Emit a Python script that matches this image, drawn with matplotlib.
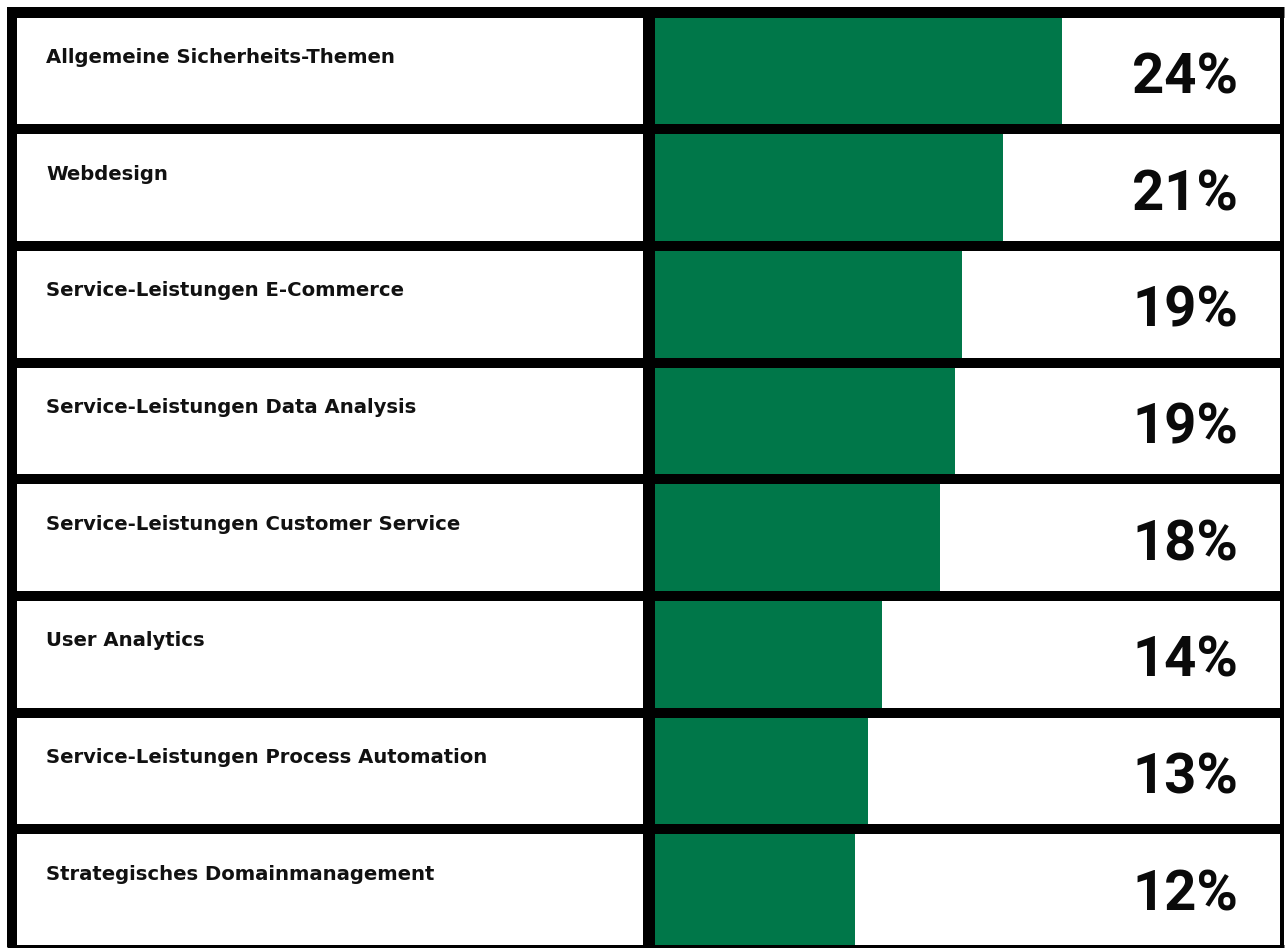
import matplotlib
matplotlib.use("Agg")
import matplotlib.pyplot as plt
from matplotlib.transforms import blended_transform_factory

categories = [
    "Allgemeine Sicherheits-Themen",
    "Webdesign",
    "Service-Leistungen E-Commerce",
    "Service-Leistungen Data Analysis",
    "Service-Leistungen Customer Service",
    "User Analytics",
    "Service-Leistungen Process Automation",
    "Strategisches Domainmanagement",
]
bar_values = [24.3, 20.8, 18.4, 18.0, 17.1, 13.7, 12.9, 12.1]
pct_labels = ["24%", "21%", "19%", "19%", "18%", "14%", "13%", "12%"]

W, H = 1287, 948
DPI = 100
GREEN = "#007749"
PX_PER_UNIT = 17.0
X0 = 649.0          # pixel x of bar origin (column divider)
ROW_TOP = 12.5      # pixel y of top border centre
ROW_H = 116.7       # pixel height of one row
n = len(categories)

fig = plt.figure(figsize=(W / DPI, H / DPI), dpi=DPI)
ax = fig.add_axes([0, 0, 1, 1])
ax.set_xlim(-X0 / PX_PER_UNIT, (W - X0) / PX_PER_UNIT)
ax.set_ylim(n - 0.5 + (H - ROW_TOP - n * ROW_H) / ROW_H, -0.5 - ROW_TOP / ROW_H)
ax.axis("off")

def px(v):
    return v * 72.0 / DPI

ys = list(range(n))
ax.barh(ys, bar_values, height=1.0, left=0, color=GREEN, zorder=1)

line_kw = dict(color="black", zorder=3, solid_capstyle="butt")
xl, xr = 7 / W, 1284 / W
# top border
ax.axhline(-0.5, xmin=xl, xmax=xr, lw=px(11), **line_kw)
# row separators
for i in range(n - 1):
    ax.axhline(i + 0.5, xmin=xl, xmax=xr, lw=px(10), **line_kw)
# bottom border
ax.axhline(n - 0.5, xmin=xl, xmax=xr, lw=px(3), **line_kw)

ylo = 1 - 7 / H
yhi = 1 - 947 / H
# left border
ax.axvline((12 - X0) / PX_PER_UNIT, ymin=yhi, ymax=ylo, lw=px(10), **line_kw)
# divider
ax.axvline(0, ymin=yhi, ymax=ylo, lw=px(12), **line_kw)
# right border
ax.axvline((1282 - X0) / PX_PER_UNIT, ymin=yhi, ymax=ylo, lw=px(4), **line_kw)

tr = blended_transform_factory(fig.transFigure, ax.transData)
for i, (cat, lab) in enumerate(zip(categories, pct_labels)):
    ax.text(46 / W, i - 0.115, cat, transform=tr, ha="left", va="center",
            fontsize=14.1, fontfamily="DejaVu Sans", fontweight="bold", color="#111111", zorder=4)
    ax.text(1238 / W, i + 0.065, lab, transform=tr, ha="right", va="center",
            fontsize=40.5, fontfamily="Roboto", fontweight="bold", color="#0a0a0a", zorder=4)

fig.savefig("out.png", dpi=DPI, facecolor="white")
